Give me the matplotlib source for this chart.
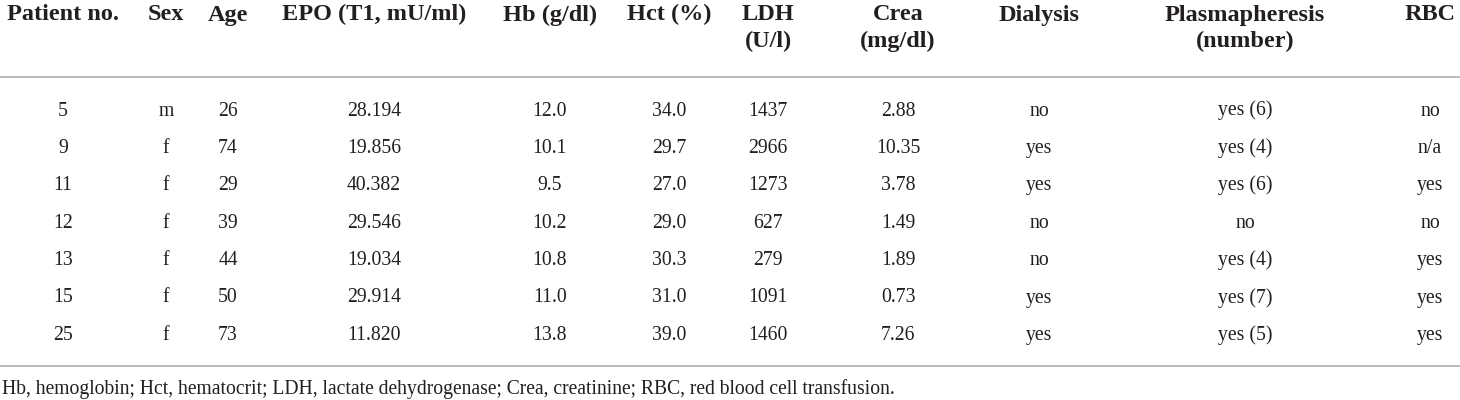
import matplotlib
matplotlib.use("Agg")
import matplotlib.pyplot as plt

# ---- data ----
headers = ["Patient no.", "Sex", "Age", "EPO (T1, mU/ml)", "Hb (g/dl)", "Hct (%)",
           "LDH\n(U/l)", "Crea\n(mg/dl)", "Dialysis", "Plasmapheresis\n(number)", "RBC"]
patient_no = ["5", "9", "11", "12", "13", "15", "25"]
sex = ["m", "f", "f", "f", "f", "f", "f"]
age = ["26", "74", "29", "39", "44", "50", "73"]
epo = ["28.194", "19.856", "40.382", "29.546", "19.034", "29.914", "11.820"]
hb = ["12.0", "10.1", "9.5", "10.2", "10.8", "11.0", "13.8"]
hct = ["34.0", "29.7", "27.0", "29.0", "30.3", "31.0", "39.0"]
ldh = ["1437", "2966", "1273", "627", "279", "1091", "1460"]
crea = ["2.88", "10.35", "3.78", "1.49", "1.89", "0.73", "7.26"]
dialysis = ["no", "yes", "yes", "no", "no", "yes", "yes"]
plasmapheresis = ["yes (6)", "yes (4)", "yes (6)", "no", "yes (4)", "yes (7)", "yes (5)"]
rbc = ["no", "n/a", "yes", "no", "yes", "yes", "yes"]
footnote = ("Hb, hemoglobin; Hct, hematocrit; LDH, lactate dehydrogenase; "
            "Crea, creatinine; RBC, red blood cell transfusion.")

columns = [patient_no, sex, age, epo, hb, hct, ldh, crea, dialysis, plasmapheresis, rbc]

# ---- layout ----
W, H = 1460, 400
col_x = [63, 166, 228, 374, 550, 669, 768, 898, 1039, 1245, 1430]
header_base = 20.5
header_line = 27
row_base0 = 115.5
row_step = 37.4
rule_top = 76.5
rule_bottom = 366
text_color = "#231f20"
rule_color = "#b4b4b4"
family = ["Liberation Serif", "DejaVu Serif"]

fig = plt.figure(figsize=(W / 100, H / 100), dpi=100)
ax = fig.add_axes([0, 0, 1, 1])
ax.set_xlim(0, W)
ax.set_ylim(H, 0)
ax.axis("off")

for x, h in zip(col_x, headers):
    for k, line in enumerate(h.split("\n")):
        ax.text(x, header_base + k * header_line, line, ha="center", va="baseline",
                fontsize=17.5, fontweight="bold", family=family, color=text_color)

for x, col in zip(col_x, columns):
    for i, v in enumerate(col):
        ax.text(x, row_base0 + i * row_step, v, ha="center", va="baseline",
                fontsize=14.2, family=family, color=text_color)

ax.plot([0, W], [rule_top, rule_top], color=rule_color, lw=1.3, solid_capstyle="butt")
ax.plot([0, W], [rule_bottom, rule_bottom], color=rule_color, lw=1.3, solid_capstyle="butt")

ax.text(2, 394, footnote, ha="left", va="baseline", fontsize=14.1,
        family=family, color=text_color)

fig.savefig("out.png", dpi=100)
